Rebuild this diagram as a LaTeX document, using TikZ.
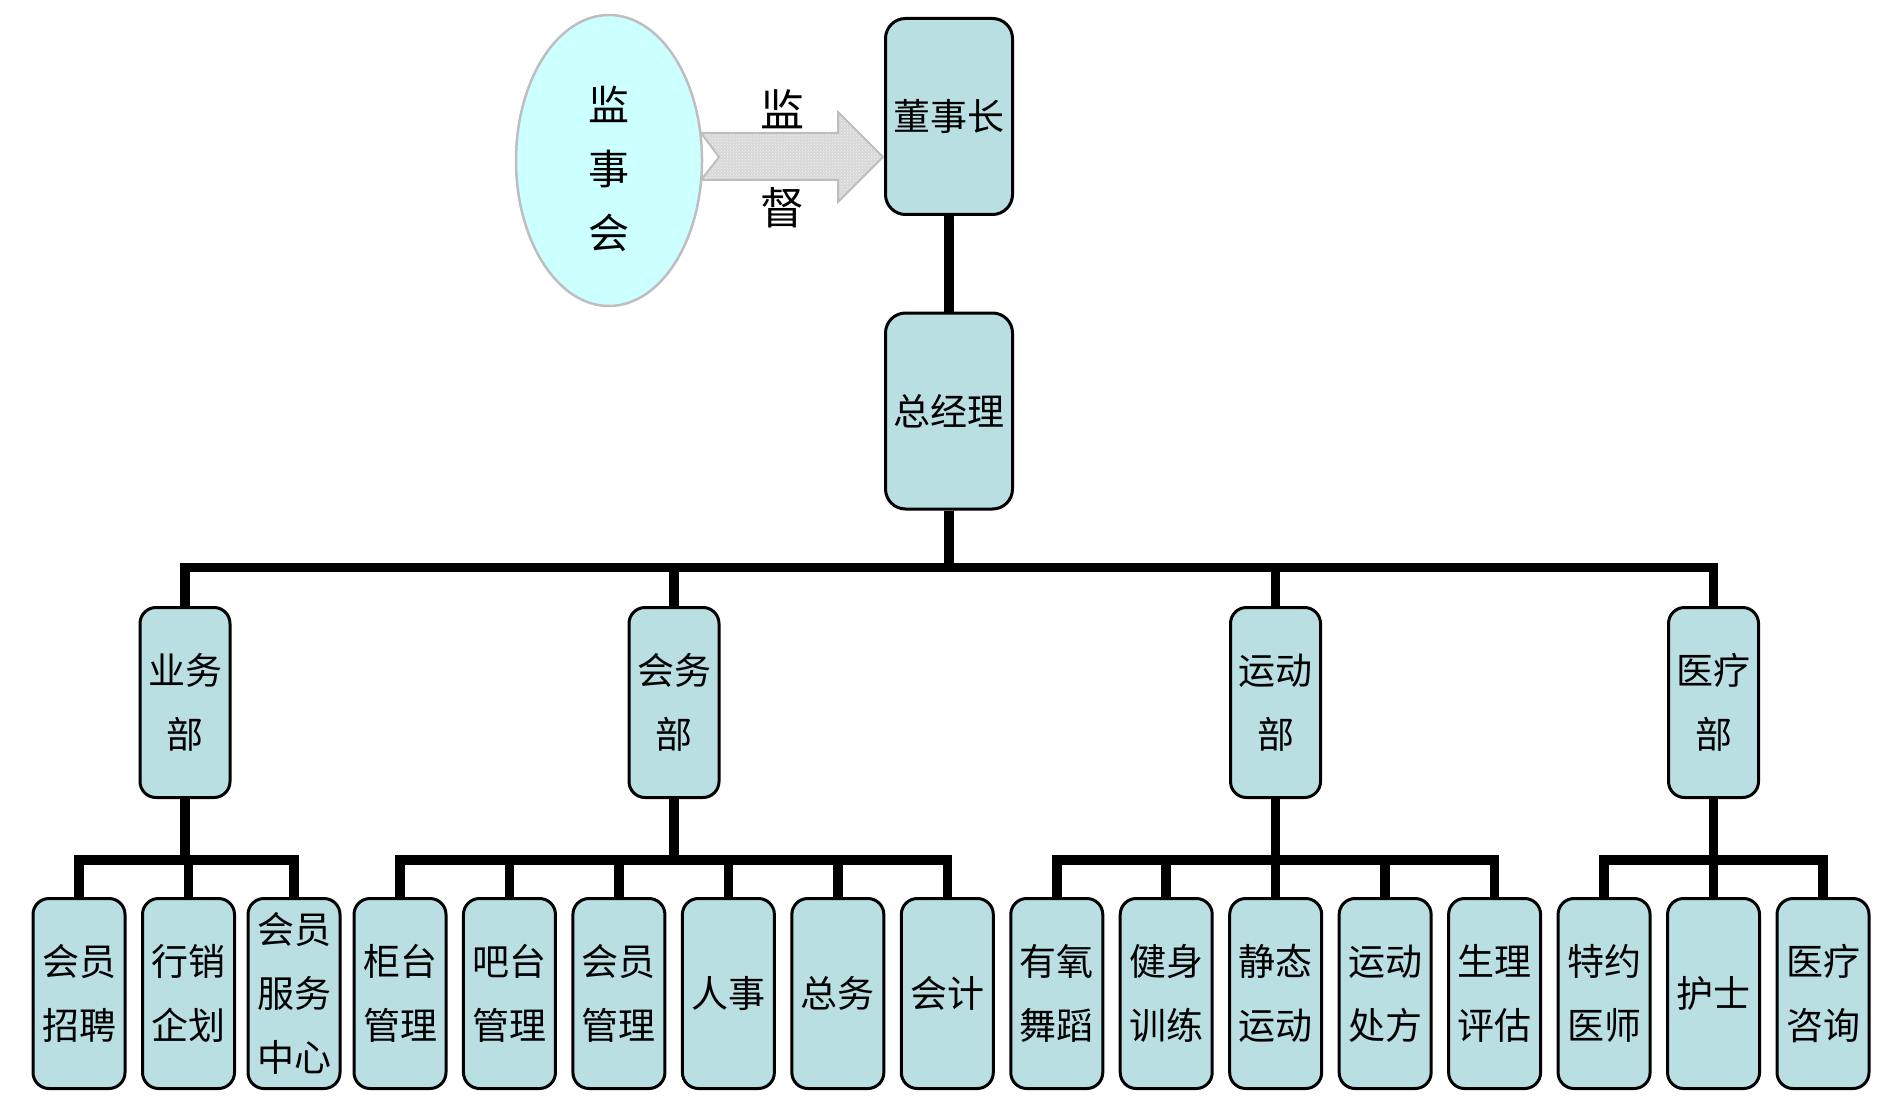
\documentclass[tikz,border=0pt]{standalone}
\usepackage{fontspec}
\newfontfamily\cjk{Noto Sans CJK SC}
\usetikzlibrary{shapes.geometric,calc,patterns}
\definecolor{boxfill}{RGB}{185,223,226}
\definecolor{ellfill}{RGB}{204,255,255}
\definecolor{ellline}{RGB}{190,190,190}
\definecolor{arrfill}{RGB}{216,216,216}
\tikzset{
  cjkfont/.style={font=\cjk\fontsize{37}{64}\selectfont},
  basebox/.style={draw=black, line width=3pt, fill=boxfill, inner sep=0pt, align=center, cjkfont},
  topbox/.style={basebox, rounded corners=20pt, minimum width=127, minimum height=196},
  deptbox/.style={basebox, rounded corners=16pt, minimum width=90, minimum height=190},
  leafbox/.style={basebox, rounded corners=16pt, minimum width=92, minimum height=190},
  conn/.style={draw=black, line width=9.5pt, line join=miter},
  lbl/.style={inner sep=0pt, align=center, font=\cjk\fontsize{44}{64}\selectfont},
  blockarrow/.style={draw=ellline, line width=2pt, preaction={fill=arrfill}, pattern=crosshatch dots, pattern color=white!70!arrfill}
}
\begin{document}
\begin{tikzpicture}[x=1pt,y=-1pt]
\useasboundingbox (0,0) rectangle (1902,1115);

% top nodes
\node[topbox] (dsz) at (949,116.5) {董事长};
\node[topbox] (zjl) at (949,411) {总经理};

% supervisory arrow
\draw[blockarrow] (701,133) -- (838,133) -- (838,112) -- (883,157) -- (838,202) -- (838,180) -- (701,180) -- (719,157) -- cycle;

\node[ellipse, draw=ellline, line width=2.5pt, fill=ellfill, minimum width=186, minimum height=291, inner sep=0pt] (jsh) at (609,160.5) {};
\node[inner sep=0pt, align=center, font=\cjk\fontsize{41}{64}\selectfont] (jshtext) at ($(jsh.center)+(0,8)$) {监\\事\\会};
\node[lbl] (lab1) at (782,109) {监};
\node[lbl] (lab2) at (782,208) {督};

% departments
\node[deptbox] (d1) at (185,702.5) {业务\\部};
\node[deptbox] (d2) at (674,702.5) {会务\\部};
\node[deptbox] (d3) at (1275.5,702.5) {运动\\部};
\node[deptbox] (d4) at (1713.5,702.5) {医疗\\部};

% leaves
\node[leafbox] (lf0)  at (79,993.5)    {会员\\招聘};
\node[leafbox] (lf1)  at (188.5,993.5) {行销\\企划};
\node[leafbox] (lf2)  at (294,993.5)   {会员\\服务\\中心};
\node[leafbox] (lf3)  at ({400+109.46*0},993.5)  {柜台\\管理};
\node[leafbox] (lf4)  at ({400+109.46*1},993.5)  {吧台\\管理};
\node[leafbox] (lf5)  at ({400+109.46*2},993.5)  {会员\\管理};
\node[leafbox] (lf6)  at ({400+109.46*3},993.5)  {人事};
\node[leafbox] (lf7)  at ({400+109.46*4},993.5)  {总务};
\node[leafbox] (lf8)  at ({400+109.46*5},993.5)  {会计};
\node[leafbox] (lf9)  at ({400+109.46*6},993.5)  {有氧\\舞蹈};
\node[leafbox] (lf10) at ({400+109.46*7},993.5)  {健身\\训练};
\node[leafbox] (lf11) at ({400+109.46*8},993.5)  {静态\\运动};
\node[leafbox] (lf12) at ({400+109.46*9},993.5)  {运动\\处方};
\node[leafbox] (lf13) at ({400+109.46*10},993.5) {生理\\评估};
\node[leafbox] (lf14) at ({400+109.46*11},993.5) {特约\\医师};
\node[leafbox] (lf15) at ({400+109.46*12},993.5) {护士};
\node[leafbox] (lf16) at ({400+109.46*13},993.5) {医疗\\咨询};

% connectors
\draw[conn] (dsz) -- (zjl);
\foreach \d in {d1,d2,d3,d4}
  \draw[conn] (zjl.south) -- ++(0,57) -| (\d.north);
\foreach \l in {lf0,lf1,lf2}
  \draw[conn] (d1.south) -- ++(0,61) -| (\l.north);
\foreach \l in {lf3,lf4,lf5,lf6,lf7,lf8}
  \draw[conn] (d2.south) -- ++(0,61) -| (\l.north);
\foreach \l in {lf9,lf10,lf11,lf12,lf13}
  \draw[conn] (d3.south) -- ++(0,61) -| (\l.north);
\foreach \l in {lf14,lf15,lf16}
  \draw[conn] (d4.south) -- ++(0,61) -| (\l.north);
\end{tikzpicture}
\end{document}
